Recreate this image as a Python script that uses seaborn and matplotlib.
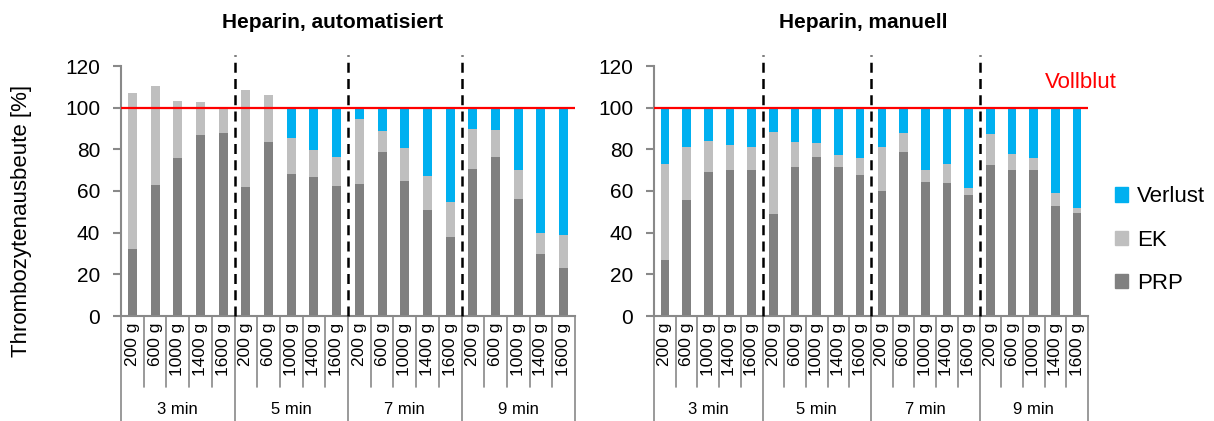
import pandas as pd
import seaborn as sns
import matplotlib.pyplot as plt
import matplotlib.transforms as mtransforms
from matplotlib.patches import Patch

# --------------------------------------------------
# Data
# --------------------------------------------------
times = ["3 min", "5 min", "7 min", "9 min"]
speeds = ["200 g", "600 g", "1000 g", "1400 g", "1600 g"]
titles = ["Heparin, automatisiert", "Heparin, manuell"]

prp_auto = [32.2, 62.9, 76.0, 86.7, 88.0,
            61.8, 83.4, 68.3, 66.9, 62.6,
            63.5, 78.6, 65.0, 51.0, 38.1,
            70.7, 76.5, 56.3, 29.9, 23.2]
ek_auto = [74.7, 47.7, 27.2, 16.2, 12.0,
           46.7, 22.7, 17.0, 12.8, 13.6,
           31.2, 10.2, 15.6, 16.0, 16.8,
           19.1, 12.8, 13.8, 9.9, 15.7]
verlust_auto = [0, 0, 0, 0, 0,
                0, 0, 14.7, 20.3, 23.8,
                5.3, 11.2, 19.4, 33.0, 45.1,
                10.2, 10.7, 29.9, 60.2, 61.1]

prp_man = [27.0, 55.5, 69.1, 70.2, 70.2,
           49.0, 71.4, 76.5, 71.5, 67.7,
           59.8, 78.6, 64.5, 63.8, 58.1,
           72.5, 70.2, 70.2, 52.6, 49.4]
ek_man = [46.0, 25.6, 15.1, 11.7, 10.8,
          39.3, 12.3, 6.7, 5.8, 8.3,
          21.2, 9.1, 5.6, 9.0, 3.3,
          14.9, 7.7, 5.6, 6.4, 2.6]
verlust_man = [27.0, 18.9, 15.8, 18.1, 19.0,
               11.7, 16.3, 16.8, 22.7, 24.0,
               19.0, 12.3, 29.9, 27.2, 38.6,
               12.6, 22.1, 24.2, 41.0, 48.0]

colors = {"Verlust": "#00B0F0", "EK": "#BFBFBF", "PRP": "#808080"}
grey = "#898989"

# --------------------------------------------------
# Build table
# --------------------------------------------------
slots = [f"{t}|{s}" for t in times for s in speeds]
rows = []
for panel, prp, ek, ver in [(titles[0], prp_auto, ek_auto, verlust_auto),
                            (titles[1], prp_man, ek_man, verlust_man)]:
    for slot, p, e, v in zip(slots, prp, ek, ver):
        rows.append({"panel": panel, "slot": slot, "PRP": p,
                     "top_ek": p + e, "top_all": p + e + v})
df = pd.DataFrame(rows)

# --------------------------------------------------
# Plot
# --------------------------------------------------
sns.set_theme(style="white")
plt.rcParams["font.family"] = ["Liberation Sans", "DejaVu Sans"]
plt.rcParams["text.color"] = "black"

fig = plt.figure(figsize=(12.14, 4.21), dpi=100)
W, H = 1214, 421
axes = [fig.add_axes([121 / W, 105 / H, 454 / W, 250 / H]),
        fig.add_axes([654 / W, 105 / H, 434 / W, 250 / H])]

for ax, panel in zip(axes, titles):
    sub = df[df["panel"] == panel]
    for col, c in [("top_all", colors["Verlust"]), ("top_ek", colors["EK"]),
                   ("PRP", colors["PRP"])]:
        sns.barplot(data=sub, x="slot", y=col, order=slots, color=c,
                    saturation=1, width=0.4, errorbar=None, linewidth=0, ax=ax)

    ax.set_xlim(-0.5, 19.5)
    ax.set_ylim(0, 120)
    ax.set_yticks(range(0, 121, 20))
    ax.set_xlabel("")
    ax.set_ylabel("")
    ax.set_xticks(range(20))
    ax.set_xticklabels(speeds * 4, rotation=90, fontsize=12.5)
    ax.tick_params(axis="x", length=0, pad=5, labelcolor="black")
    ax.tick_params(axis="y", length=6, width=1.5, color=grey, labelsize=15,
                   pad=9, left=True, labelcolor="black")
    for side in ["top", "right"]:
        ax.spines[side].set_visible(False)
    for side in ["left", "bottom"]:
        ax.spines[side].set_color(grey)
        ax.spines[side].set_linewidth(1.5)

    ax.axhline(100, color="#FF0000", lw=1.6, zorder=4)

    trans = mtransforms.blended_transform_factory(ax.transData, ax.transAxes)
    for i in range(21):
        yb = -0.42 if i % 5 == 0 else -0.284
        ax.plot([i - 0.5, i - 0.5], [0, yb], transform=trans, color=grey,
                lw=1.2, clip_on=False)
    for k, t in enumerate(times):
        ax.text(2 + 5 * k, -0.376, t, transform=trans, ha="center",
                va="center", fontsize=12)
    for x in [4.5, 9.5, 14.5]:
        ax.plot([x, x], [0, 125.5], color="black", lw=1.8,
                ls=(0, (4, 2.5)), clip_on=False, zorder=5)

fig.text(333 / W, 1 - 22 / H, titles[0], ha="center", va="center",
         fontsize=15, fontweight="bold")
fig.text(863 / W, 1 - 22 / H, titles[1], ha="center", va="center",
         fontsize=15, fontweight="bold")
fig.text(22 / W, 1 - 221 / H, "Thrombozytenausbeute [%]", rotation=90,
         ha="center", va="center", fontsize=16)
fig.text(1081 / W, 1 - 82 / H, "Vollblut", color="#FF0000", ha="center",
         va="center", fontsize=16)

handles = [Patch(color=colors[k], label=k) for k in ["Verlust", "EK", "PRP"]]
fig.legend(handles=handles, loc="center left",
           bbox_to_anchor=(1104 / W, 1 - 240 / H), frameon=False,
           fontsize=16, handlelength=0.6, handleheight=0.6,
           handletextpad=0.4, labelspacing=1.0, borderpad=0)

fig.savefig("out.png", dpi=100)
